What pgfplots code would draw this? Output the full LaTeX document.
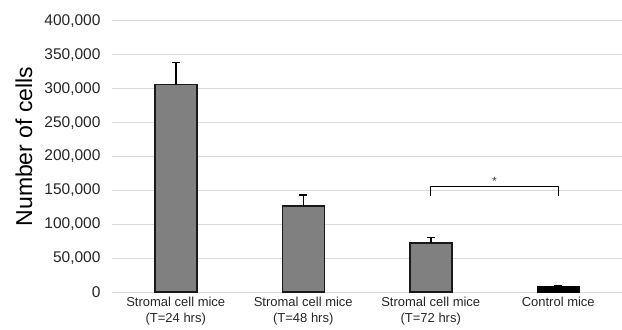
\documentclass[border=0pt]{standalone}
\usepackage{pgfplots}
\pgfplotsset{compat=1.18}
\usepackage{fontspec}
\setmainfont{Liberation Sans}
\definecolor{gridgray}{HTML}{D9D9D9}
\definecolor{bargray}{HTML}{808080}
\begin{document}
\begin{tikzpicture}
\path[use as bounding box] (0,0) rectangle (622bp,330bp);
\begin{axis}[
  at={(112bp,38bp)}, anchor=south west,
  scale only axis, width=510bp, height=271bp,
  xmin=-0.5, xmax=3.5, ymin=0, ymax=400000,
  axis line style={draw=none},
  ymajorgrids, grid style={gridgray, line width=1bp},
  ytick={0,50000,...,400000},
  xtick={0,1,2,3},
  xticklabels={{Stromal cell mice\\(T=24 hrs)},{Stromal cell mice\\(T=48 hrs)},{Stromal cell mice\\(T=72 hrs)},{Control mice}},
  xticklabel style={align=center, font=\fontsize{13bp}{15.5bp}\selectfont, anchor=north, yshift=-2bp, text=black!85},
  yticklabel style={font=\fontsize{15.5bp}{18bp}\selectfont, anchor=east, xshift=-8bp, text=black!85},
  major tick length=0pt,
  scaled y ticks=false,
  /pgf/number format/assume math mode=true,
  y tick label style={/pgf/number format/.cd, fixed, 1000 sep={,}},
  clip=false,
  ybar, bar width=42bp,
]
\addplot[bar shift=0pt, fill=bargray, draw=black!90, line width=1.5bp,
  error bars/.cd, y dir=plus, y explicit, error mark=-,
  error bar style={black, line width=1.5bp},
  error mark options={black, mark size=4bp, line width=1.5bp, rotate=90}]
  coordinates {(0,306000) +- (0,32500) (1,127000) +- (0,16000) (2,72500) +- (0,8000)};
\addplot[bar shift=0pt, fill=black, draw=black, line width=1.5bp,
  error bars/.cd, y dir=plus, y explicit, error mark=-,
  error bar style={black, line width=1.5bp},
  error mark options={black, mark size=4bp, line width=1.5bp, rotate=90}]
  coordinates {(3,7200) +- (0,2300)};
\addplot[sharp plot, black, line width=1.2bp, mark=none, fill=none] coordinates {(2,141000) (2,155500) (3,155500) (3,141000)};
\node[font=\fontsize{12bp}{12bp}\selectfont, text=black!75, anchor=south, inner sep=0pt] at (axis cs:2.5,157000) {*};
\end{axis}
\node[rotate=90, font=\fontsize{23bp}{26bp}\selectfont] at (24bp,183.5bp) {Number of cells};
\end{tikzpicture}
\end{document}
